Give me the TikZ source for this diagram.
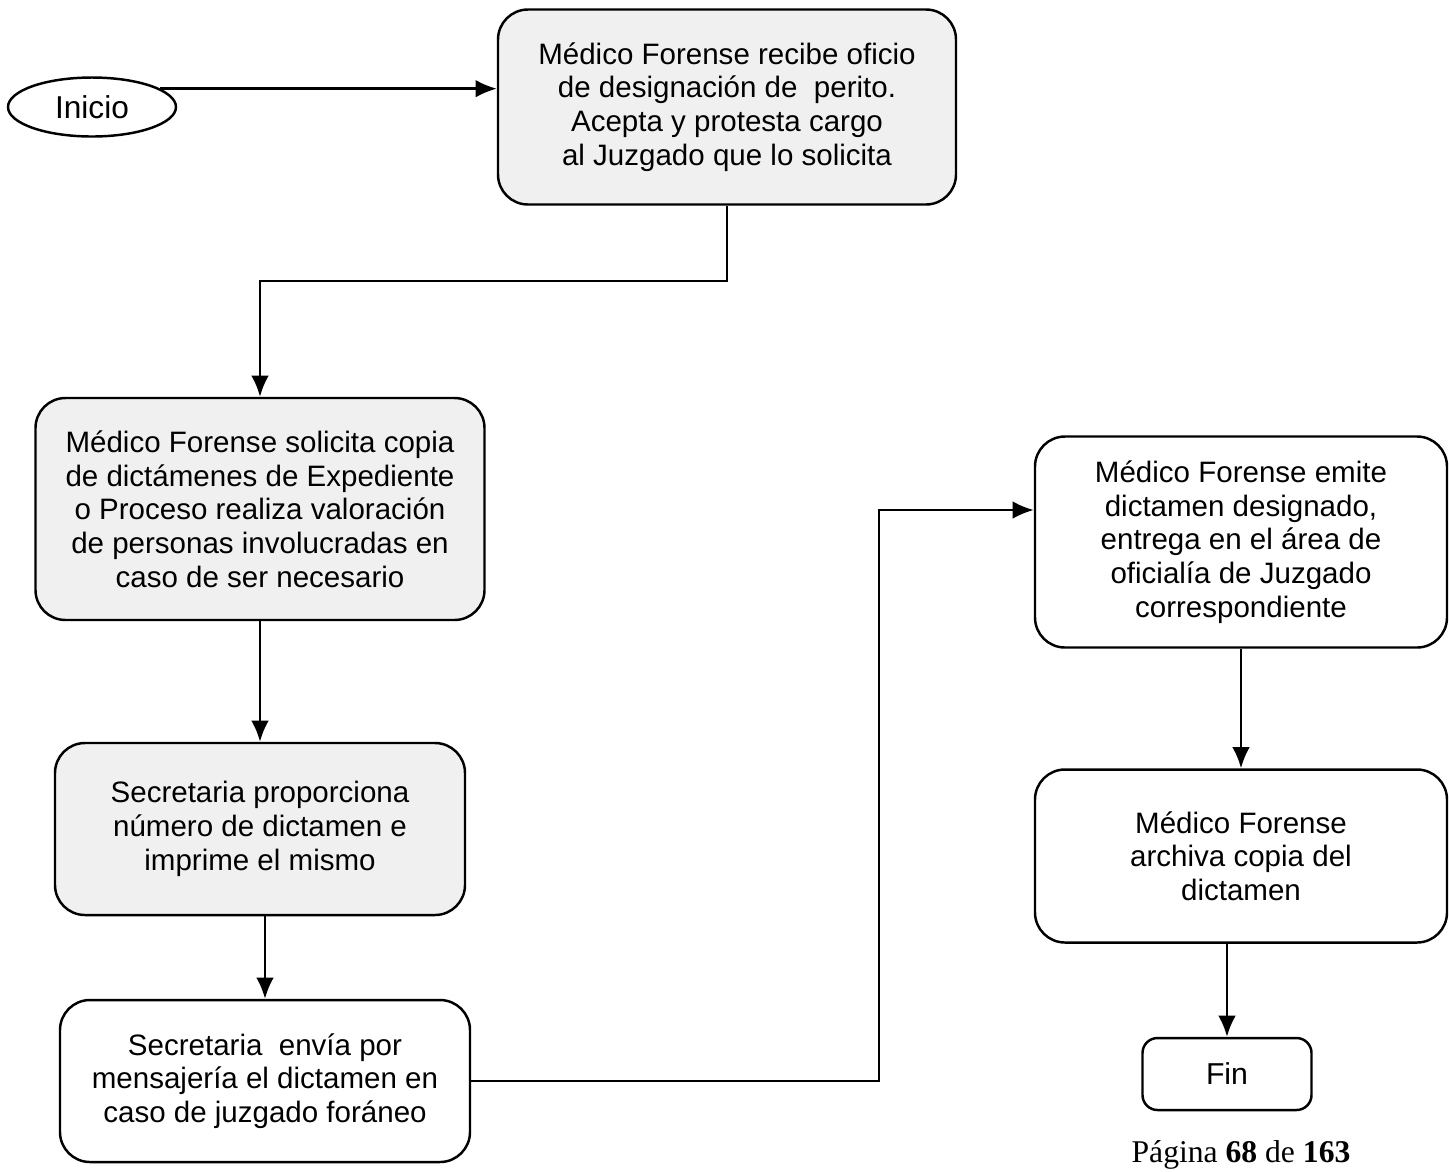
\documentclass[tikz,border=0pt]{standalone}
\usepackage{fontspec}
\setmainfont{Liberation Sans}
\newfontfamily\pieserif{Liberation Serif}
\usetikzlibrary{shapes,arrows,arrows.meta,positioning,calc}

\begin{document}
\begin{tikzpicture}[>={Latex[length=6pt,width=5pt]}, line width=0.7pt]
\tikzstyle{proc} = [draw, rectangle, rounded corners=0.3cm, align=center, font=\fontsize{8.4}{9.6}\selectfont]
\tikzstyle{procgris} = [proc, fill=gray!12]
\tikzstyle{term} = [draw, ellipse, minimum width=1.68cm, minimum height=0.59cm, inner sep=0pt, font=\fontsize{9}{10}\selectfont]
\tikzstyle{fin} = [draw, rectangle, rounded corners=0.15cm, minimum width=1.69cm, minimum height=0.72cm, font=\fontsize{8.6}{10}\selectfont]

\useasboundingbox (0,0) rectangle (14.49,-11.71);

\node[term] (inicio) at (0.92,-1.07) {Inicio};
\node[procgris, minimum width=4.58cm, minimum height=1.95cm] (recibe) at (7.27,-1.07) {Médico Forense recibe oficio\\de designación de\ \ perito.\\Acepta y protesta cargo\\al Juzgado que lo solicita};
\node[procgris, minimum width=4.49cm, minimum height=2.22cm] (solicita) at (2.6,-5.09) {Médico Forense solicita copia\\de dictámenes de Expediente\\o Proceso realiza valoración\\de personas involucradas en\\caso de ser necesario};
\node[procgris, minimum width=4.10cm, minimum height=1.72cm] (numero) at (2.6,-8.29) {Secretaria proporciona\\número de dictamen e\\imprime el mismo};
\node[proc, minimum width=4.10cm, minimum height=1.62cm] (envia) at (2.65,-10.81) {Secretaria\ \ envía por\\mensajería el dictamen en\\caso de juzgado foráneo};
\node[proc, minimum width=4.12cm, minimum height=2.11cm] (emite) at (12.41,-5.42) {Médico Forense emite\\dictamen designado,\\entrega en el área de\\oficialía de Juzgado\\correspondiente};
\node[proc, minimum width=4.12cm, minimum height=1.73cm] (archiva) at (12.41,-8.56) {Médico Forense\\archiva copia del\\dictamen};
\node[fin] (fin) at (12.27,-10.74) {Fin};
\node[font=\pieserif\fontsize{9}{10}\selectfont, anchor=base] (pagina) at (12.41,-11.62) {Página \textbf{68} de \textbf{163}};

\draw[->] (inicio.15) -- (inicio.15 -| recibe.west);
\draw[->] (recibe.south) -- ++(0,-0.75) -| (solicita.north);
\draw[->] (solicita.south) -- (numero.north);
\draw[->] (envia.north |- numero.south) -- (envia.north);
\draw[->] (envia.east) -- ++(4.08,0) |- ([yshift=3.2mm]emite.west);
\draw[->] (emite.south) -- (archiva.north);
\draw[->] (fin.north |- archiva.south) -- (fin.north);
\end{tikzpicture}
\end{document}
